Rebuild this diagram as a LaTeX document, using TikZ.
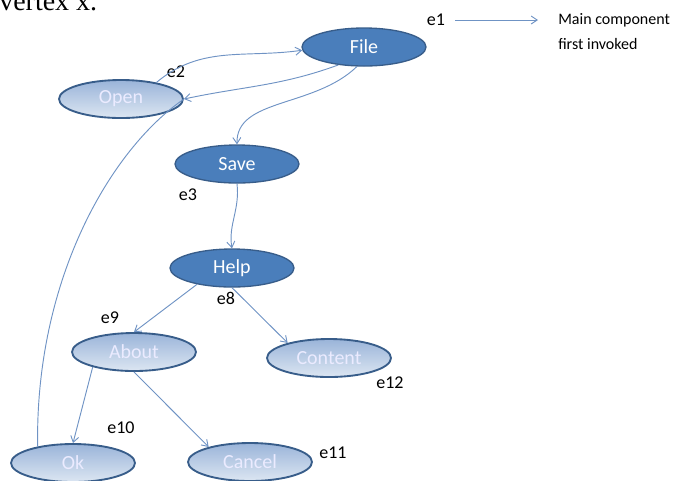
\documentclass[tikz,border=0pt]{standalone}
\usepackage{fontspec}
\setmainfont{Carlito}
\newfontfamily\serifx{Liberation Serif}
\usetikzlibrary{shapes.geometric,arrows.meta}
\definecolor{darkfill}{HTML}{4A7EBB}
\definecolor{nodeline}{HTML}{385D8A}
\definecolor{lighttop}{HTML}{9AB4D9}
\definecolor{lightbot}{HTML}{DCE6F2}
\definecolor{edgecol}{HTML}{6F93C4}
\tikzset{
  darknode/.style={ellipse,draw=nodeline,line width=1pt,fill=darkfill,text=white,
    minimum width=124\unitpx,minimum height=38\unitpx,inner sep=0pt,font=\fontsize{15}{17}\selectfont},
  lightnode/.style={ellipse,draw=nodeline,line width=1.4pt,top color=lighttop,bottom color=lightbot,
    text=white!92!blue,minimum width=124\unitpx,minimum height=38\unitpx,inner sep=0pt,font=\fontsize{15}{17}\selectfont},
  edge/.style={draw=edgecol,line width=0.7pt,-{Straight Barb[length=4.5pt,width=6pt]}},
  plainedge/.style={draw=edgecol,line width=0.7pt},
  lbl/.style={inner sep=0pt,font=\fontsize{13.5}{15}\selectfont}
}
\newcommand{\unitpx}{*0.75pt}
\begin{document}
\begin{tikzpicture}[x=0.75pt,y=-0.75pt]
\useasboundingbox (0,0) rectangle (688,480);
\node[anchor=base west,inner sep=0pt,font=\serifx\fontsize{21}{24}\selectfont] (vx) at (-1,10) {vertex x.};
\node[darknode] (file) at (364,47) {File};
\node[lightnode] (open) at (121,99) {Open};
\node[darknode] (save) at (237,164) {Save};
\node[darknode] (help) at (232,268) {Help};
\node[lightnode] (about) at (134,352) {About};
\node[lightnode] (content) at (329,358) {Content};
\node[lightnode] (ok) at (73,463) {Ok};
\node[lightnode] (cancel) at (250,462) {Cancel};
% labels
\node[lbl] (e1) at (436,20) {e1};
\node[lbl,anchor=west,font=\fontsize{12}{14}\selectfont] (mc1) at (558,20) {Main component};
\node[lbl,anchor=west,font=\fontsize{12}{14}\selectfont] (mc2) at (558,44) {first invoked};
\node[lbl] (e2) at (176,72) {e2};
\node[lbl] (e3) at (188,195) {e3};
\node[lbl] (e8) at (226,298) {e8};
\node[lbl] (e9) at (110,318) {e9};
\node[lbl] (e10) at (121,428) {e10};
\node[lbl] (e11) at (333,453) {e11};
\node[lbl] (e12) at (390,383) {e12};
% edges
\draw[edge,shorten <=10\unitpx,shorten >=20\unitpx] (e1) -- (mc1.west);
\draw[edge] (open.25) to[out=40,in=188] (file.183);
\draw[edge] (file.215) to[out=200,in=12] (open.east);
\draw[edge] (file.250) .. controls (314,108) and (236,98) .. (save.north);
\draw[edge] (save.south) .. controls (240,210) and (228,225) .. (help.north);
\draw[edge] (help.205) -- (about.north);
\draw[edge] (help.south) -- (content.160);
\draw[edge] (about.200) -- (ok.north);
\draw[edge] (about.south) -- (cancel.160);
\draw[plainedge] (ok.155) .. controls (35,280) and (110,150) .. (open.east);
\end{tikzpicture}
\end{document}
